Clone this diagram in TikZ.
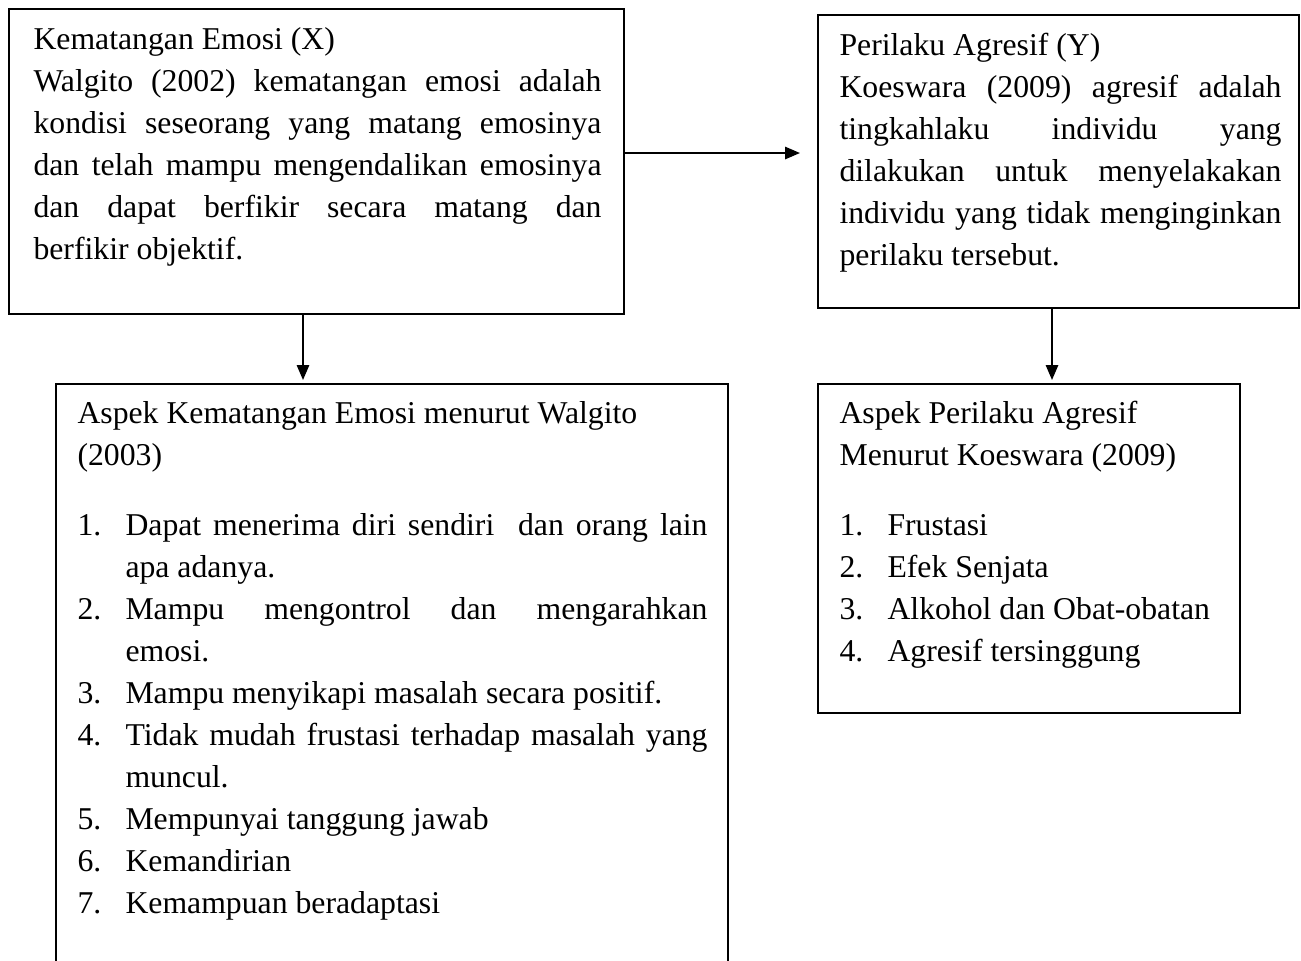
\documentclass[tikz,border=0pt]{standalone}
\usepackage{fontspec}
\setmainfont{Liberation Serif}[Ligatures=CommonOff]
\usepackage{tikz}
\usetikzlibrary{arrows.meta}

\newdimen\upx
\upx=0.375pt
\hyphenpenalty=10000
\tolerance=10000

\newcommand{\butir}[2]{\par\hangindent=18pt\hangafter=1\noindent\makebox[18pt][l]{#1}#2\par}

\tikzset{
	kotak/.style={draw, line width=0.9pt, inner sep=0pt, anchor=north west},
	teks/.style={inner sep=0pt, anchor=base west, align=justify, font=\fontsize{11.9}{15.75}\selectfont},
	panah/.style={line width=0.75pt, -{Triangle[length=5.6pt,width=4.6pt]}}
}

\begin{document}
\begin{tikzpicture}[x=\upx, y=-\upx]
		\useasboundingbox (0,0) rectangle (1301,960);
		\clip (0,0) rectangle (1301,960);
		
		%KEMATANGAN EMOSI
		\node[kotak, minimum width=615*\upx, minimum height=305*\upx] (kotakX) at (8,8) {};
		\node[teks, text width=568*\upx] (teksX) at ([shift={(25,41)}]kotakX.north west)
			{Kematangan Emosi (X)\newline
			Walgito (2002) kematangan emosi adalah\linebreak
			kondisi seseorang yang matang emosinya\linebreak
			dan telah mampu mengendalikan emosinya\linebreak
			dan dapat berfikir secara matang dan\linebreak
			berfikir objektif.};
		
		%PERILAKU AGRESIF
		\node[kotak, minimum width=481*\upx, minimum height=293*\upx] (kotakY) at (817,14) {};
		\node[teks, text width=442*\upx] (teksY) at ([shift={(22,41)}]kotakY.north west)
			{Perilaku Agresif (Y)\newline
			Koeswara (2009) agresif adalah\linebreak
			tingkahlaku individu yang\linebreak
			dilakukan untuk menyelakakan\linebreak
			individu yang tidak menginginkan\linebreak
			perilaku tersebut.};
		
		%ASPEK X
		\node[kotak, minimum width=672*\upx, minimum height=600*\upx] (aspekX) at (55,383) {};
		\node[teks, text width=630*\upx] (teksAspekX) at ([shift={(22,40)}]aspekX.north west)
			{Aspek Kematangan Emosi menurut Walgito\newline (2003)\par
			\vspace{10.5pt}
			\butir{1.}{Dapat menerima diri sendiri \ dan orang lain\linebreak apa adanya.}
			\butir{2.}{Mampu mengontrol dan mengarahkan\linebreak emosi.}
			\butir{3.}{Mampu menyikapi masalah secara positif.}
			\butir{4.}{Tidak mudah frustasi terhadap masalah yang\linebreak muncul.}
			\butir{5.}{Mempunyai tanggung jawab}
			\butir{6.}{Kemandirian}
			\butir{7.}{Kemampuan beradaptasi}};
		
		%ASPEK Y
		\node[kotak, minimum width=422*\upx, minimum height=329*\upx] (aspekY) at (817,383) {};
		\node[teks, text width=380*\upx] (teksAspekY) at ([shift={(22,40)}]aspekY.north west)
			{Aspek Perilaku Agresif\newline Menurut Koeswara (2009)\par
			\vspace{10.5pt}
			\butir{1.}{Frustasi}
			\butir{2.}{Efek Senjata}
			\butir{3.}{Alkohol dan Obat-obatan}
			\butir{4.}{Agresif tersinggung}};
		
		%panah
		\coordinate (ujungXY) at (800,153);
		\coordinate (ujungX) at (303,380);
		\coordinate (ujungY) at (1052,380);
		\draw[panah] (kotakX.east |- ujungXY) -- (ujungXY);
		\draw[panah] (kotakX.south -| ujungX) -- (ujungX);
		\draw[panah] (kotakY.south -| ujungY) -- (ujungY);
		
	\end{tikzpicture}
\end{document}
